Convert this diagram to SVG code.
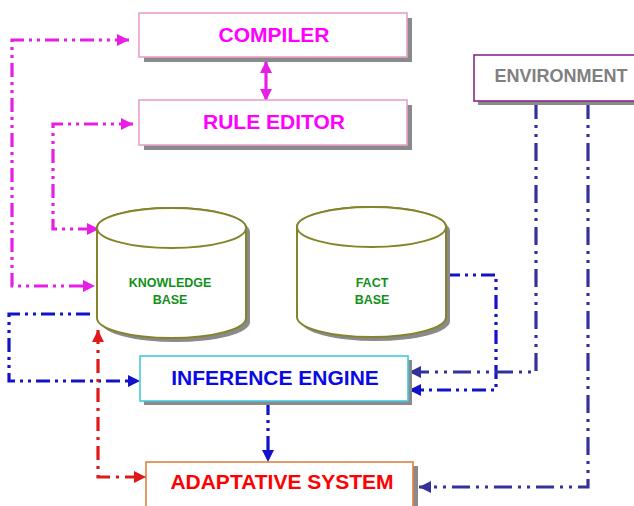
<svg xmlns="http://www.w3.org/2000/svg" width="634" height="506" viewBox="0 0 634 506">
<style>
text{font-family:"Liberation Sans",Arial,sans-serif;font-weight:bold;text-anchor:middle}
.shadow{fill:#8a8a8a}
.box{fill:#fff;stroke-width:1.6}
.cyl{fill:#fff;stroke:#84842a;stroke-width:2}
.big{font-size:21px}
.small{font-size:12.5px;fill:#12901a}
.conn{fill:none;stroke-width:3.2}
.mag{stroke:#e61ee6}
.blue{stroke:#1212c8}
.navy{stroke:#32329a}
.red{stroke:#e01818}
.dd{stroke-dasharray:14 5 3 5 3 5}
.dl{stroke-dasharray:18 6 3 6 3 6}
.dr{stroke-dasharray:14 6 3 6}
</style>
<defs>
<marker id="aM" markerUnits="userSpaceOnUse" markerWidth="14" markerHeight="12" refX="12" refY="6" orient="auto-start-reverse"><path d="M0,0 L12,6 L0,12 Z" fill="#e61ee6"/></marker>
<marker id="aB" markerUnits="userSpaceOnUse" markerWidth="14" markerHeight="12" refX="12" refY="6" orient="auto"><path d="M0,0 L12,6 L0,12 Z" fill="#1212c8"/></marker>
<marker id="aN" markerUnits="userSpaceOnUse" markerWidth="14" markerHeight="12" refX="12" refY="6" orient="auto"><path d="M0,0 L12,6 L0,12 Z" fill="#32329a"/></marker>
<marker id="aR" markerUnits="userSpaceOnUse" markerWidth="14" markerHeight="12" refX="12" refY="6" orient="auto-start-reverse"><path d="M0,0 L12,6 L0,12 Z" fill="#e01818"/></marker>
</defs>

<g id="connectors">
<path class="conn mag dd" d="M129,40 H12 V286 H95" marker-start="url(#aM)" marker-end="url(#aM)"/>
<path class="conn mag dd" d="M133,124 H53 V229 H99" marker-start="url(#aM)" marker-end="url(#aM)"/>
<path class="conn mag" d="M266,61 V101" marker-start="url(#aM)" marker-end="url(#aM)"/>
<path class="conn blue dd" d="M90,314 H9 V381 H140" marker-end="url(#aB)"/>
<path class="conn red dr" d="M98,330 V477 H146" marker-start="url(#aR)" marker-end="url(#aR)"/>
<path class="conn blue dd" d="M268,401 V462" marker-end="url(#aB)"/>
<path class="conn blue dd" d="M446,275 H496 V390 H409" marker-end="url(#aB)"/>
<path class="conn navy dl" d="M536,101 V372 H409" marker-end="url(#aN)"/>
<path class="conn navy dl" d="M588,101 V487 H419" marker-end="url(#aN)"/>
</g>

<g id="compiler">
<rect class="shadow" x="144" y="18" width="268" height="44"/>
<rect class="box" x="139" y="13" width="268" height="44" stroke="#e8a0cc"/>
<text class="big" x="274" y="42" fill="#ff00ff">COMPILER</text>
</g>

<g id="rule-editor">
<rect class="shadow" x="144" y="105" width="268" height="45"/>
<rect class="box" x="139" y="100" width="268" height="45" stroke="#e8a0cc"/>
<text class="big" x="274" y="129" fill="#ff00ff">RULE EDITOR</text>
</g>

<g id="environment">
<rect class="shadow" x="478" y="59" width="170" height="46"/>
<rect class="box" x="474" y="55" width="170" height="46" stroke="#8a2a8a"/>
<text x="561" y="82" font-size="18" fill="#808080">ENVIRONMENT</text>
</g>

<g id="knowledge-base">
<path class="shadow" d="M101,232 L101,322 A74.5,20 0 0 0 250,322 L250,232 A74.5,20 0 0 0 101,232 Z"/>
<path class="cyl" d="M97,228 L97,318 A74.5,20 0 0 0 246,318 L246,228 A74.5,20 0 0 0 97,228 Z"/>
<ellipse class="cyl" cx="171.5" cy="228" rx="74.5" ry="20"/>
<text class="small" x="170" y="287">KNOWLEDGE</text>
<text class="small" x="170" y="304">BASE</text>
</g>

<g id="fact-base">
<path class="shadow" d="M301,231 L301,321 A74.5,20 0 0 0 450,321 L450,231 A74.5,20 0 0 0 301,231 Z"/>
<path class="cyl" d="M297,227 L297,317 A74.5,20 0 0 0 446,317 L446,227 A74.5,20 0 0 0 297,227 Z"/>
<ellipse class="cyl" cx="371.5" cy="227" rx="74.5" ry="20"/>
<text class="small" x="372" y="287">FACT</text>
<text class="small" x="372" y="304">BASE</text>
</g>

<g id="inference-engine">
<rect class="shadow" x="144" y="360" width="268" height="45"/>
<rect class="box" x="140" y="356" width="268" height="45" stroke="#44c8e0" stroke-width="2"/>
<text class="big" x="275" y="385" fill="#0a0ae6">INFERENCE ENGINE</text>
</g>

<g id="adaptative-system">
<rect class="shadow" x="151" y="466" width="267" height="50"/>
<rect class="box" x="146" y="462" width="267" height="50" stroke="#e08040" stroke-width="2"/>
<text class="big" x="282" y="489" fill="#ff0000">ADAPTATIVE SYSTEM</text>
</g>
</svg>
